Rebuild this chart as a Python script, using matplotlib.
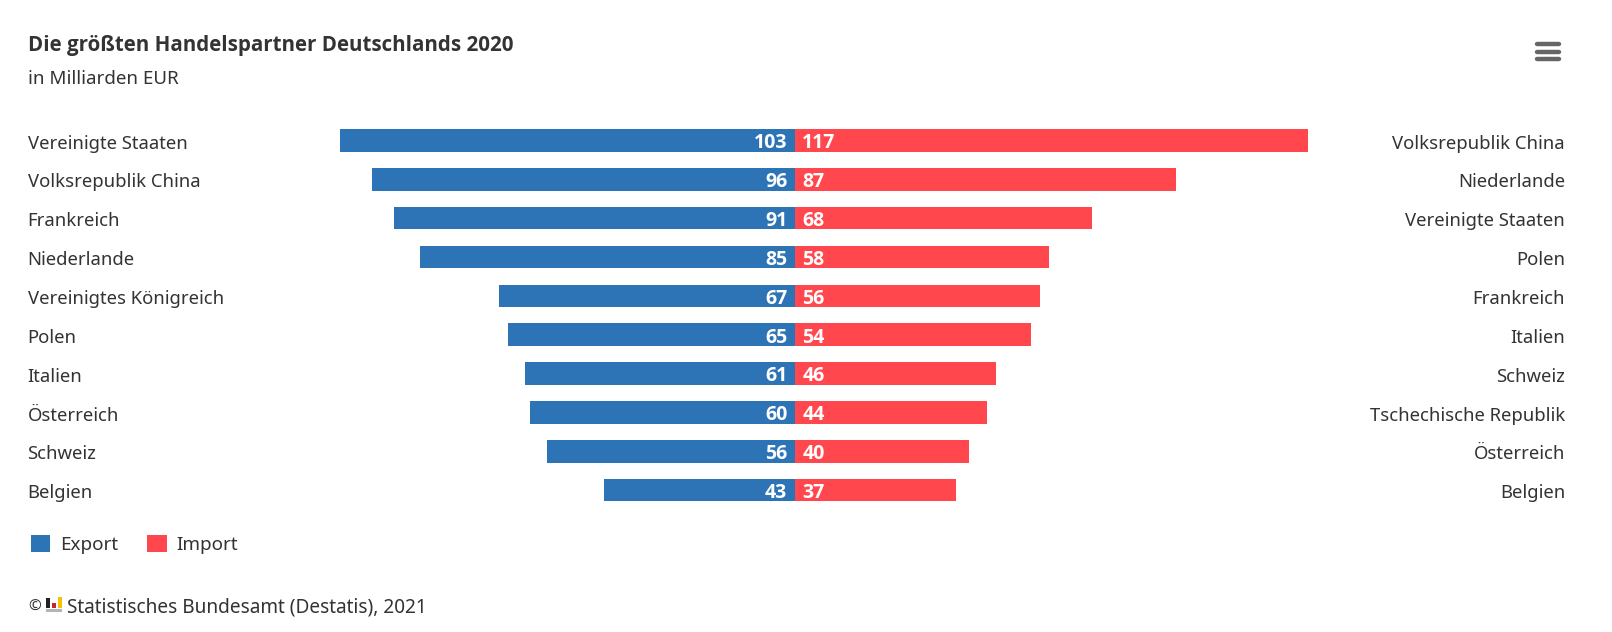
# coding: utf-8
"""
Die groessten Handelspartner Deutschlands 2020, as a butterfly bar chart.
"""

import matplotlib
matplotlib.use("Agg")
import matplotlib.pyplot as plt
from matplotlib.patches import Rectangle

WIDTH, HEIGHT = 1612, 632
CENTRE_PX = 795
PX_PER_UNIT = 4.39
FIRST_ROW_PX = 140.5
ROW_PX = 38.85

export_partners = ["Vereinigte Staaten", "Volksrepublik China", "Frankreich", "Niederlande",
                   "Vereinigtes Königreich", "Polen", "Italien", "Österreich", "Schweiz", "Belgien"]
import_partners = ["Volksrepublik China", "Niederlande", "Vereinigte Staaten", "Polen", "Frankreich",
                   "Italien", "Schweiz", "Tschechische Republik", "Österreich", "Belgien"]
export_values = [103.6, 96.3, 91.3, 85.5, 67.4, 65.3, 61.4, 60.4, 56.4, 43.4]
import_values = [116.8, 86.8, 67.6, 57.8, 55.7, 53.7, 45.8, 43.7, 39.6, 36.6]
export_labels = ["103", "96", "91", "85", "67", "65", "61", "60", "56", "43"]
import_labels = ["117", "87", "68", "58", "56", "54", "46", "44", "40", "37"]

BLUE = "#2d74b6"
RED = "#ff474d"
TEXT = "#333333"
BOLD_FONT = ["Open Sans", "DejaVu Sans"]


def fx(px):
    return px / WIDTH


def fy(px):
    return 1 - px / HEIGHT


plt.rcParams["font.family"] = ["Noto Sans", "DejaVu Sans"]

fig = plt.figure(figsize=(WIDTH / 100, HEIGHT / 100), dpi=100, facecolor="white")
ax = fig.add_axes([0, 0, 1, 1])
ax.axis("off")
ax.set_xlim(-CENTRE_PX / PX_PER_UNIT, (WIDTH - CENTRE_PX) / PX_PER_UNIT)
ax.set_ylim((HEIGHT - FIRST_ROW_PX) / ROW_PX, -FIRST_ROW_PX / ROW_PX)

rows = list(range(len(export_partners)))
bar_height = 22.5 / ROW_PX
ax.barh(rows, [-v for v in export_values], height=bar_height, color=BLUE, label="Export")
ax.barh(rows, import_values, height=bar_height, color=RED, label="Import")

for row in rows:
    ax.text(fx(27.5), row + 0.08, export_partners[row], transform=ax.get_yaxis_transform(),
            ha="left", va="center", fontsize=13.3, color=TEXT)
    ax.text(fx(1565), row + 0.08, import_partners[row], transform=ax.get_yaxis_transform(),
            ha="right", va="center", fontsize=13.3, color=TEXT)
    ax.annotate(export_labels[row], (0, row), xytext=(-5.5, -2), textcoords="offset points",
                ha="right", va="center", fontsize=14, fontweight="bold", color="white",
                family=BOLD_FONT)
    ax.annotate(import_labels[row], (0, row), xytext=(5.2, -2), textcoords="offset points",
                ha="left", va="center", fontsize=14, fontweight="bold", color="white",
                family=BOLD_FONT)

fig.text(fx(28.5), fy(45), "Die größten Handelspartner Deutschlands 2020", ha="left", va="center",
         fontsize=14.8, fontweight="bold", color=TEXT, family=BOLD_FONT)
fig.text(fx(28.5), fy(79), "in Milliarden EUR", ha="left", va="center", fontsize=13.5, color=TEXT)
fig.text(fx(67), fy(607), "Statistisches Bundesamt (Destatis), 2021", ha="left", va="center",
         fontsize=13.7, color=TEXT)
fig.text(fx(28.5), fy(607), "©", ha="left", va="center", fontsize=11, color=TEXT)

ax.legend(loc="upper left", bbox_to_anchor=(fx(30.5), fy(534.5)), frameon=False, ncol=2,
          fontsize=13.6, labelcolor=TEXT, handlelength=1.05, handleheight=1.05,
          handletextpad=0.5, columnspacing=1.55, borderpad=0, borderaxespad=0)

# menu button, top right
for y in [44, 51.7, 59]:
    fig.add_artist(plt.Line2D([fx(1537), fx(1559)], [fy(y), fy(y)], color="#666666", lw=3.2,
                              solid_capstyle="round"))

# small Destatis logo next to the source line
for x, top, bottom, w, colour in [(46, 598, 608, 4, "#222222"), (52, 603, 608, 4, "#d0202e"),
                                  (58, 597, 608, 4, "#f5c000"), (46, 609, 612, 16, "#b4b4b4")]:
    fig.add_artist(Rectangle((fx(x), fy(bottom)), fx(w), (bottom - top) / HEIGHT,
                             transform=fig.transFigure, facecolor=colour, edgecolor="none"))

fig.savefig("out.png", dpi=100)
